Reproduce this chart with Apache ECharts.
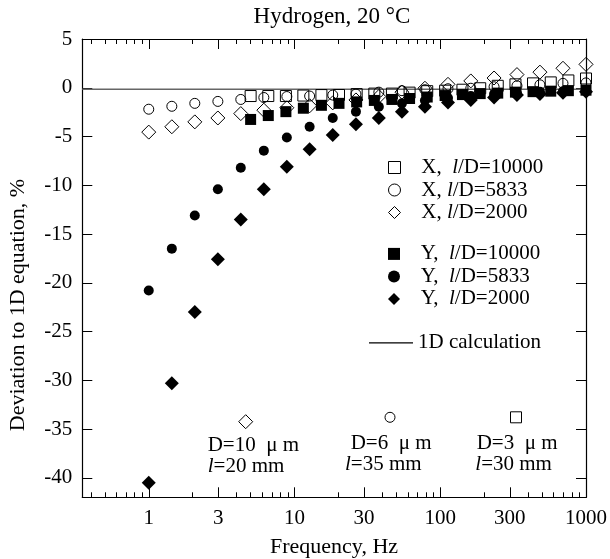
<!DOCTYPE html>
<html>
<head>
<meta charset="utf-8">
<script src="https://cdn.jsdelivr.net/npm/echarts@6/dist/echarts.min.js"></script>
<style>
  html, body { margin: 0; padding: 0; background: #fff; }
  #chart { width: 610px; height: 559px; }
</style>
</head>
<body>
<div id="chart"></div>
<script>
// frequencies (Hz) for the D=10 / D=6 runs and for the D=3 runs
var freqA = [1, 1.44, 2.07, 2.98, 4.28, 6.16, 8.86, 12.7, 18.3, 26.4, 37.9, 54.6, 78.5, 113, 162, 234, 336, 483, 695, 1000];
var freqB = [5, 6.61, 8.73, 11.5, 15.3, 20.2, 26.7, 35.3, 46.6, 61.6, 81.4, 108, 142, 188, 248, 328, 433, 573, 757, 1000];

// deviation, %
var x10000 = [-0.85, -0.85, -0.85, -0.8, -0.75, -0.74, -0.65, -0.6, -0.6, -0.5, -0.35, -0.3, -0.2, -0.05, 0.2, 0.35, 0.45, 0.55, 0.75, 0.95];
var x5833 = [-2.2, -1.9, -1.6, -1.4, -1.2, -1.0, -0.9, -0.85, -0.75, -0.65, -0.45, -0.3, -0.2, -0.1, -0.05, 0.1, 0.2, 0.3, 0.45, 0.5];
var x2000 = [-4.55, -4.0, -3.5, -3.1, -2.65, -2.3, -2.05, -1.85, -1.55, -1.25, -0.9, -0.45, -0.05, 0.35, 0.7, 1.0, 1.35, 1.6, 2.0, 2.4];
var y10000 = [-3.25, -2.85, -2.45, -2.1, -1.8, -1.6, -1.45, -1.3, -1.2, -1.1, -0.95, -0.8, -0.7, -0.6, -0.55, -0.45, -0.4, -0.35, -0.3, -0.25];
var y5833 = [-20.8, -16.5, -13.1, -10.4, -8.2, -6.45, -5.1, -4.0, -3.1, -2.45, -1.95, -1.6, -1.3, -1.05, -0.85, -0.65, -0.5, -0.4, -0.35, -0.3];
var y2000 = [-40.5, -30.3, -23.0, -17.6, -13.5, -10.4, -8.1, -6.3, -4.85, -3.75, -3.1, -2.45, -1.95, -1.5, -1.25, -1.0, -0.75, -0.65, -0.5, -0.4];
var calc1D = -0.15;

// axis ticks
var xMajor = [1, 3, 10, 30, 100, 300, 1000];
var xMinor = [0.4, 0.5, 0.6, 0.7, 0.8, 0.9, 2, 4, 5, 6, 7, 8, 9, 20, 40, 50, 60, 70, 80, 90, 200, 400, 500, 600, 700, 800, 900];
var yTicks = [5, 0, -5, -10, -15, -20, -25, -30, -35, -40];
var fMin = 0.35, fMax = 1000;

var FONT = 'Liberation Serif';
var lg = function (v) { return Math.log10(v); };
var pts = function (fs, vs) { return fs.map(function (f, i) { return [lg(f), vs[i]]; }); };

var myChart = echarts.init(document.getElementById('chart'));

// x axes: major + minor, bottom + top
function xAx(pos, ticks, len, showLabel, showLine) {
    return {
        type: 'value', position: pos, min: lg(fMin), max: lg(fMax),
        axisLine: { show: showLine, onZero: false, lineStyle: { color: '#000', width: 1.2 } },
        axisTick: { show: true, inside: true, length: len, customValues: ticks.map(lg), lineStyle: { color: '#000', width: 1 } },
        axisLabel: {
            show: showLabel, customValues: ticks.map(lg), margin: 11,
            color: '#000', fontFamily: FONT, fontSize: 21,
            formatter: function (v) { return String(Math.round(Math.pow(10, v))); }
        },
        splitLine: { show: false }
    };
}
function yAx(pos, showLabel) {
    return {
        type: 'value', position: pos, min: -42, max: 5,
        axisLine: { show: true, onZero: false, lineStyle: { color: '#000', width: 1.2 } },
        axisTick: { show: true, inside: true, length: 10, customValues: yTicks, lineStyle: { color: '#000', width: 1 } },
        axisLabel: { show: showLabel, customValues: yTicks, margin: 10, color: '#000', fontFamily: FONT, fontSize: 21 },
        splitLine: { show: false }
    };
}

var openStyle = { color: 'rgba(0,0,0,0)', borderColor: '#000', borderWidth: 1, opacity: 1 };
var fillStyle = { color: '#000', borderWidth: 0, opacity: 1 };

function scat(name, fs, vs, symbol, size, style) {
    return {
        name: name, type: 'scatter', xAxisIndex: 0, yAxisIndex: 0,
        symbol: symbol, symbolSize: size, itemStyle: style,
        data: pts(fs, vs), z: 3
    };
}

var rich = { i: { fontStyle: 'italic', fontFamily: FONT, fontSize: 21 } };
// spaces push the text away from the small symbol
var fmt = function (name) { return '   ' + name.replace('l/D', '{i|l}/D'); };
var legText = { color: '#000', fontFamily: FONT, fontSize: 21, rich: rich };

var option = {
    animation: false,
    title: {
        text: 'Hydrogen, 20 °C', left: 327, top: 0, textAlign: 'center',
        textStyle: { color: '#000', fontFamily: FONT, fontSize: 23, fontWeight: 'normal' }
    },
    grid: { left: 82.3, right: 18.3, top: 39, bottom: 61.7 },
    xAxis: [
        xAx('bottom', xMajor, 10, true, true),
        xAx('bottom', xMinor, 5, false, false),
        xAx('top', xMajor, 10, false, true),
        xAx('top', xMinor, 5, false, false)
    ],
    yAxis: [yAx('left', true), yAx('right', false)],
    legend: [
        {
            orient: 'vertical', left: 383, top: 152, itemWidth: 12, itemHeight: 12, itemGap: 1.5,
            formatter: fmt, textStyle: legText,
            data: [
                { name: 'X,  l/D=10000', icon: 'rect', itemStyle: openStyle },
                { name: 'X, l/D=5833', icon: 'circle', itemStyle: openStyle },
                { name: 'X, l/D=2000', icon: 'diamond', itemStyle: openStyle }
            ]
        },
        {
            orient: 'vertical', left: 383, top: 238.4, itemWidth: 12, itemHeight: 12, itemGap: 1.5,
            formatter: fmt, textStyle: legText,
            data: [
                { name: 'Y,  l/D=10000', icon: 'rect', itemStyle: fillStyle },
                { name: 'Y,  l/D=5833', icon: 'circle', itemStyle: fillStyle },
                { name: 'Y,  l/D=2000', icon: 'diamond', itemStyle: fillStyle }
            ]
        },
        {
            orient: 'vertical', left: 364, top: 327.4, itemWidth: 44, itemHeight: 1.3,
            symbolKeepAspect: false, textStyle: legText,
            data: [{ name: '1D calculation', icon: 'rect', itemStyle: { color: '#000', borderWidth: 0 } }]
        }
    ],
    series: [
        {
            name: '1D calculation', type: 'line', xAxisIndex: 0, yAxisIndex: 0,
            symbol: 'none', z: 1,
            itemStyle: { color: '#666' },
            lineStyle: { color: '#666', width: 1.5 },
            data: [[lg(fMin), calc1D], [lg(fMax), calc1D]]
        },
        scat('Y,  l/D=10000', freqB, y10000, 'rect', 11, fillStyle),
        scat('Y,  l/D=5833', freqA, y5833, 'circle', 10, fillStyle),
        scat('Y,  l/D=2000', freqA, y2000, 'diamond', 14, fillStyle),
        scat('X,  l/D=10000', freqB, x10000, 'rect', 11, openStyle),
        scat('X, l/D=5833', freqA, x5833, 'circle', 10, openStyle),
        scat('X, l/D=2000', freqA, x2000, 'diamond', 14, openStyle)
    ],
    graphic: [
        {
            type: 'text', x: 18, y: 305, rotation: Math.PI / 2,
            style: { text: 'Deviation to 1D equation, %', fill: '#000', font: '22px "Liberation Serif"', align: 'center', verticalAlign: 'middle' }
        },
        {
            type: 'text', x: 334, y: 547,
            style: { text: 'Frequency, Hz', fill: '#000', font: '22px "Liberation Serif"', align: 'center', verticalAlign: 'middle' }
        },
        // sample annotations
        { type: 'polygon', shape: { points: [[245.7, 414.7], [252.7, 421.7], [245.7, 428.7], [238.7, 421.7]] }, style: { fill: 'none', stroke: '#000', lineWidth: 1 } },
        { type: 'circle', shape: { cx: 390, cy: 417.3, r: 5 }, style: { fill: 'none', stroke: '#000', lineWidth: 1 } },
        { type: 'rect', shape: { x: 510.5, y: 411.8, width: 11, height: 11 }, style: { fill: 'none', stroke: '#000', lineWidth: 1 } },
        { type: 'text', x: 207.7, y: 445, style: { text: 'D=10  μ m', fill: '#000', font: '21px "Liberation Serif"', verticalAlign: 'middle' } },
        { type: 'text', x: 207.7, y: 466, style: { text: '{i|l}=20 mm', fill: '#000', font: '21px "Liberation Serif"', verticalAlign: 'middle', rich: rich } },
        { type: 'text', x: 350.7, y: 443, style: { text: 'D=6  μ m', fill: '#000', font: '21px "Liberation Serif"', verticalAlign: 'middle' } },
        { type: 'text', x: 345, y: 464, style: { text: '{i|l}=35 mm', fill: '#000', font: '21px "Liberation Serif"', verticalAlign: 'middle', rich: rich } },
        { type: 'text', x: 476.7, y: 443, style: { text: 'D=3  μ m', fill: '#000', font: '21px "Liberation Serif"', verticalAlign: 'middle' } },
        { type: 'text', x: 475.3, y: 464, style: { text: '{i|l}=30 mm', fill: '#000', font: '21px "Liberation Serif"', verticalAlign: 'middle', rich: rich } }
    ]
};
myChart.setOption(option);
</script>
</body>
</html>
